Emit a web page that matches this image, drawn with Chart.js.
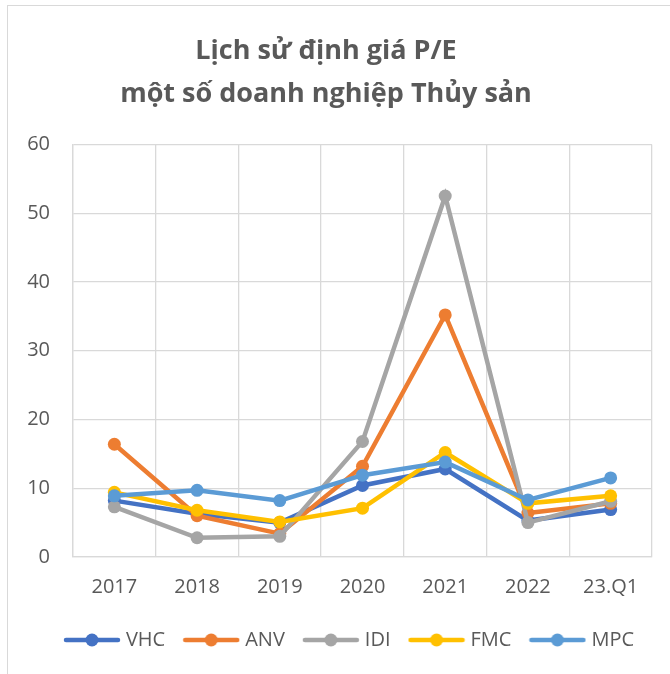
<!DOCTYPE html>
<html>
<head>
<meta charset="utf-8">
<script src="https://cdn.jsdelivr.net/npm/chart.js@4/dist/chart.umd.min.js"></script>
<style>
  html, body { margin: 0; padding: 0; background: #fff; }
  #wrap { position: relative; width: 670px; height: 674px; overflow: hidden; }
  #frame { position: absolute; left: 7px; top: 5px; width: 700px; height: 700px;
           border-left: 1.5px solid #d9d9d9; border-top: 1.5px solid #d9d9d9; }
  canvas { position: absolute; left: 0; top: 0; }
</style>
</head>
<body>
<div id="wrap">
  <div id="frame"></div>
  <canvas id="c" width="670" height="674"></canvas>
</div>
<script>
const categories = ["2017", "2018", "2019", "2020", "2021", "2022", "23.Q1"];
const seriesNames = ["VHC", "ANV", "IDI", "FMC", "MPC"];
const VHC = [8.2, 6.3, 5.0, 10.4, 12.8, 5.3, 6.9];
const ANV = [16.4, 6.0, 3.4, 13.2, 35.2, 6.4, 7.8];
const IDI = [7.3, 2.8, 3.0, 16.8, 52.5, 5.0, 8.1];
const FMC = [9.4, 6.8, 5.1, 7.1, 15.2, 7.8, 8.9];
const MPC = [8.9, 9.7, 8.2, 11.9, 13.8, 8.3, 11.5];
const seriesColors = ["#4472C4", "#ED7D31", "#A5A5A5", "#FFC000", "#5B9BD5"];
const titleLines = ["Lịch sử định giá P/E", "một số doanh nghiệp Thủy sản"];

const seriesValues = [VHC, ANV, IDI, FMC, MPC];
const textColor = "#595959";
const gridColor = "#d9d9d9";
const FONT = "'Open Sans', sans-serif";

function legendIcon(color) {
  const c = document.createElement("canvas");
  c.width = 58; c.height = 16;
  const g = c.getContext("2d");
  g.strokeStyle = color; g.lineWidth = 4.5; g.lineCap = "round";
  g.beginPath(); g.moveTo(3, 8); g.lineTo(55, 8); g.stroke();
  g.fillStyle = color;
  g.beginPath(); g.arc(29, 8, 6.5, 0, Math.PI * 2); g.fill();
  return c;
}
const icons = seriesColors.map(legendIcon);

const datasets = seriesNames.map((name, i) => ({
  label: name,
  data: seriesValues[i],
  borderColor: seriesColors[i],
  backgroundColor: seriesColors[i],
  borderWidth: 4.5,
  pointRadius: 6.5,
  pointBorderWidth: 0,
  pointBackgroundColor: seriesColors[i],
  tension: 0,
  order: seriesNames.length - i
}));

const legendShift = {
  id: "legendShift",
  afterLayout(chart) {
    const lg = chart.legend;
    if (!lg) return;
    lg.left += 25; lg.right += 25;
    lg.top -= 9; lg.bottom -= 9;
  }
};

new Chart(document.getElementById("c"), {
  type: "line",
  data: { labels: categories, datasets },
  plugins: [legendShift],
  options: {
    responsive: false,
    animation: false,
    devicePixelRatio: 1,
    layout: { padding: { left: 0, right: 18, top: 0, bottom: 5 } },
    plugins: {
      tooltip: { enabled: false },
      title: {
        display: true,
        text: titleLines,
        color: textColor,
        font: { family: FONT, size: 27, weight: "bold", lineHeight: 1.6 },
        padding: { top: 30, bottom: 28 }
      },
      legend: {
        position: "bottom",
        labels: {
          usePointStyle: true,
          pointStyleWidth: 48,
          boxHeight: 16,
          padding: 22,
          color: textColor,
          font: { family: FONT, size: 20 },
          generateLabels: (chart) => chart.data.datasets.map((ds, i) => ({
            text: ds.label,
            fillStyle: seriesColors[i],
            strokeStyle: seriesColors[i],
            lineWidth: 0,
            pointStyle: icons[i],
            fontColor: textColor,
            hidden: false,
            datasetIndex: i
          }))
        }
      }
    },
    scales: {
      x: {
        offset: true,
        grid: { color: gridColor, lineWidth: 1.3, offset: true, drawTicks: false },
        border: { color: gridColor, width: 1.3 },
        ticks: { color: textColor, font: { family: FONT, size: 20 }, padding: 18, maxRotation: 0 }
      },
      y: {
        min: 0, max: 60,
        grid: { color: gridColor, lineWidth: 1.3, drawTicks: false },
        border: { color: gridColor, width: 1.3 },
        ticks: { stepSize: 10, color: textColor, font: { family: FONT, size: 20 }, padding: 23 },
        afterFit: (s) => { s.width = 73; }
      }
    }
  }
});
</script>
</body>
</html>
